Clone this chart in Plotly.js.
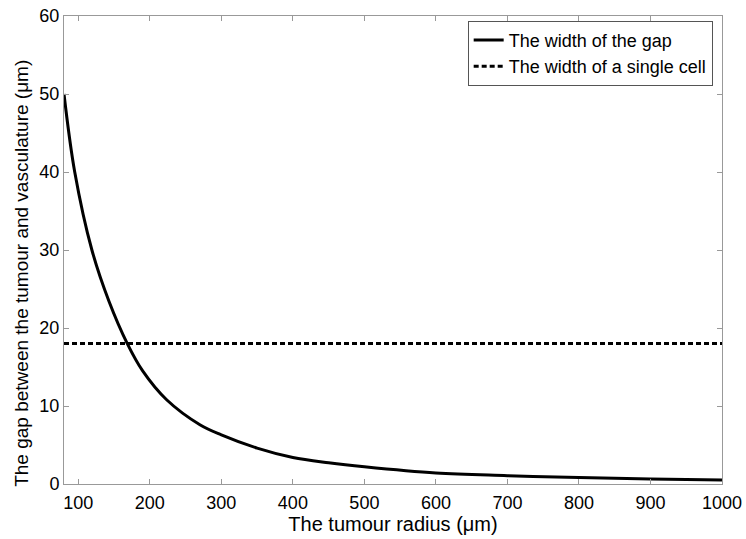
<!DOCTYPE html>
<html>
<head>
<meta charset="utf-8">
<script src="https://cdn.plot.ly/plotly-3.0.1.min.js"></script>
<style>html,body{margin:0;padding:0;background:#fff;}#chart{width:746px;height:539px;}</style>
</head>
<body>
<div id="chart"></div>
<script>
// Tumour radius (μm) and gap width (μm)
const radius = [80, 95, 119, 143, 168.5, 190, 223.5, 270, 300, 350, 400, 450, 500, 600, 700, 800, 900, 1000];
const gapWidth = [50, 40, 30, 23.4, 18, 14.5, 10.8, 7.6, 6.3, 4.6, 3.4, 2.72, 2.2, 1.4, 1.07, 0.82, 0.65, 0.52];
const cellX = [80, 1000];
const cellWidth = [18, 18];
const seriesNames = ["The width of the gap", "The width of a single cell"];
const xTicks = [100, 200, 300, 400, 500, 600, 700, 800, 900, 1000];
const yTicks = [0, 10, 20, 30, 40, 50, 60];
const yTitle = "The gap between the tumour and vasculature (μm)";
const xTitle = "The tumour radius (μm)";

const font = "Liberation Sans, Arial, Helvetica, sans-serif";
const traces = [
  {x: radius, y: gapWidth, name: seriesNames[0], mode: "lines",
   line: {color: "#000", width: 3, shape: "spline", smoothing: 1}},
  {x: cellX, y: cellWidth, name: seriesNames[1], mode: "lines",
   line: {color: "#000", width: 3, dash: "5px,3px"}}
];
const axisCommon = {
  showgrid: false, zeroline: false, showline: true, linecolor: "#999", linewidth: 1,
  mirror: "ticks", ticks: "inside", ticklen: 5, tickcolor: "#999", tickwidth: 1,
  tickfont: {family: font, size: 18, color: "#000"}
};
const layout = {
  width: 746, height: 539,
  margin: {l: 64, r: 24, t: 16, b: 55},
  paper_bgcolor: "#fff", plot_bgcolor: "#fff",
  showlegend: true,
  legend: {x: 0.6135, y: 0.99, xanchor: "left", yanchor: "top",
    bgcolor: "#fff", bordercolor: "#555", borderwidth: 1,
    font: {family: font, size: 18, color: "#000"},
    itemwidth: 30, tracegroupgap: 0},
  xaxis: Object.assign({}, axisCommon, {
    range: [80, 1000], tickvals: xTicks, ticktext: xTicks.map(String),
    ticklabelstandoff: 2, automargin: false,
    title: {text: xTitle, font: {family: font, size: 20, color: "#000"}, standoff: 4}
  }),
  yaxis: Object.assign({}, axisCommon, {
    range: [0, 60], tickvals: yTicks, ticktext: yTicks.map(String),
    automargin: false
  }),
  annotations: [{
    text: yTitle, textangle: -90, showarrow: false,
    xref: "paper", yref: "paper", x: -0.064, y: 0.451,
    xanchor: "center", yanchor: "middle",
    font: {family: font, size: 19, color: "#000"}
  }]
};
Plotly.newPlot("chart", traces, layout, {displayModeBar: false, staticPlot: true});
</script>
</body>
</html>
